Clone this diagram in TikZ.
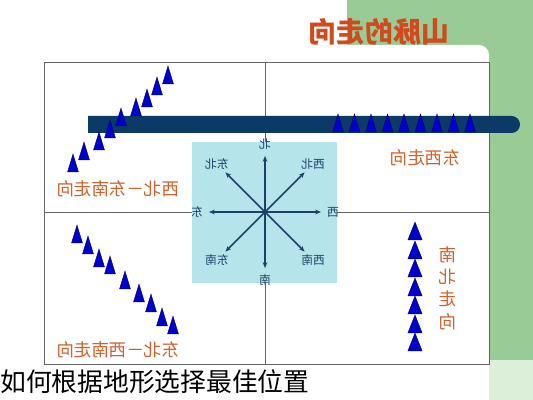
\documentclass[tikz,border=0pt]{standalone}
\usepackage{fontspec}
\setmainfont{Noto Sans CJK SC}
\usetikzlibrary{arrows.meta}

\definecolor{slidegreen}{HTML}{98CB95}
\definecolor{palegreen}{HTML}{DCEFD9}
\definecolor{barnavy}{HTML}{0B3A66}
\definecolor{peakblue}{HTML}{0000CC}
\definecolor{peakedge}{HTML}{000066}
\definecolor{compasscyan}{HTML}{B6E4EB}
\definecolor{compassnavy}{HTML}{1F4066}
\definecolor{labelorange}{HTML}{D2622C}
\definecolor{titlered}{HTML}{D04A1E}
\definecolor{gridgray}{HTML}{666666}

\tikzset{
    mirrored/.style={xscale=-1},
    trend/.style={mirrored, text=labelorange, font=\fontsize{15}{19}\selectfont, inner sep=0pt},
    dirlabel/.style={mirrored, text=compassnavy, font=\fontsize{10}{11}\selectfont, inner sep=0pt},
    dirarrow/.style={compassnavy, line width=1.3pt, -{Stealth[length=5pt,width=4pt]}},
    gridline/.style={gridgray, line width=0.8pt},
    peak/.pic={\filldraw[fill=peakblue, draw=peakedge, line width=0.3pt] (-5.5,-9) -- (0,9) -- (5.5,-9) -- cycle;}
}

\begin{document}
\begin{tikzpicture}[x=0.03cm, y=0.03cm]
    \useasboundingbox (0,0) rectangle (533,400);
    % slide background
    \fill[slidegreen] (347,40) rectangle (533,400);
    \fill[white, rounded corners=0.3cm] (-20,-20) rectangle (489,355);
    \fill[palegreen] (489,0) rectangle (533,40);

    % frame and cross
    \draw[gridline] (44,36) rectangle (489,338);
    \draw[gridline] (265,36) -- (265,338) (44,188) -- (489,188);

    % compass
    \fill[compasscyan] (192,117) rectangle (337,258);
    \coordinate (o) at (265,188);
    \foreach \ang/\lab in {90/北, 270/南, 180/东, 0/西, 135/东北, 45/西北, 225/东南, 315/西南} {
        \path (o) ++(\ang:56) coordinate (t\ang);
        \path (o) ++(\ang:68) node[dirlabel] (l\ang) {\lab};
        \draw[dirarrow] (o) -- (t\ang);
    }
    \fill[compassnavy] (o) circle (2);

    % ridge bar
    \fill[barnavy] (88,267) -- (511.5,267) arc[start angle=-90, end angle=90, radius=8.5] -- (88,284) -- cycle;

    % peaks
    \foreach \x/\y in {168/325, 157/314, 147/302, 136/293, 121/283, 110/271, 99/259, 84/249, 73/237}
        \pic at (\x,\y) {peak};
    \foreach \x/\y in {77/166, 88/155, 99/142, 110/135, 125/120, 139/107, 151/97, 162/83, 173/75}
        \pic at (\x,\y) {peak};
    \foreach \i in {0,...,8}
        \pic at (338+16.5*\i,277) {peak};
    \foreach \y in {169,150,132,113,95,76,58}
        \pic[xscale=1.3] at (415,\y) {peak};

    % labels
    \node[trend] (nwse) at (118,211) {西北－东南走向};
    \node[trend] (nesw) at (118,50) {东北－西南走向};
    \node[trend] (ew) at (425,242) {东西走向};
    \node[trend, align=center] (ns) at (448,112) {南\\北\\走\\向};
    \node[mirrored, text=titlered, font=\fontsize{24}{26}\selectfont\bfseries] (title) at (379,368) {山脉的走向};
    \node[anchor=west, inner sep=0pt, font=\fontsize{22}{25}\selectfont] (caption) at (0,18) {如何根据地形选择最佳位置};
\end{tikzpicture}
\end{document}
